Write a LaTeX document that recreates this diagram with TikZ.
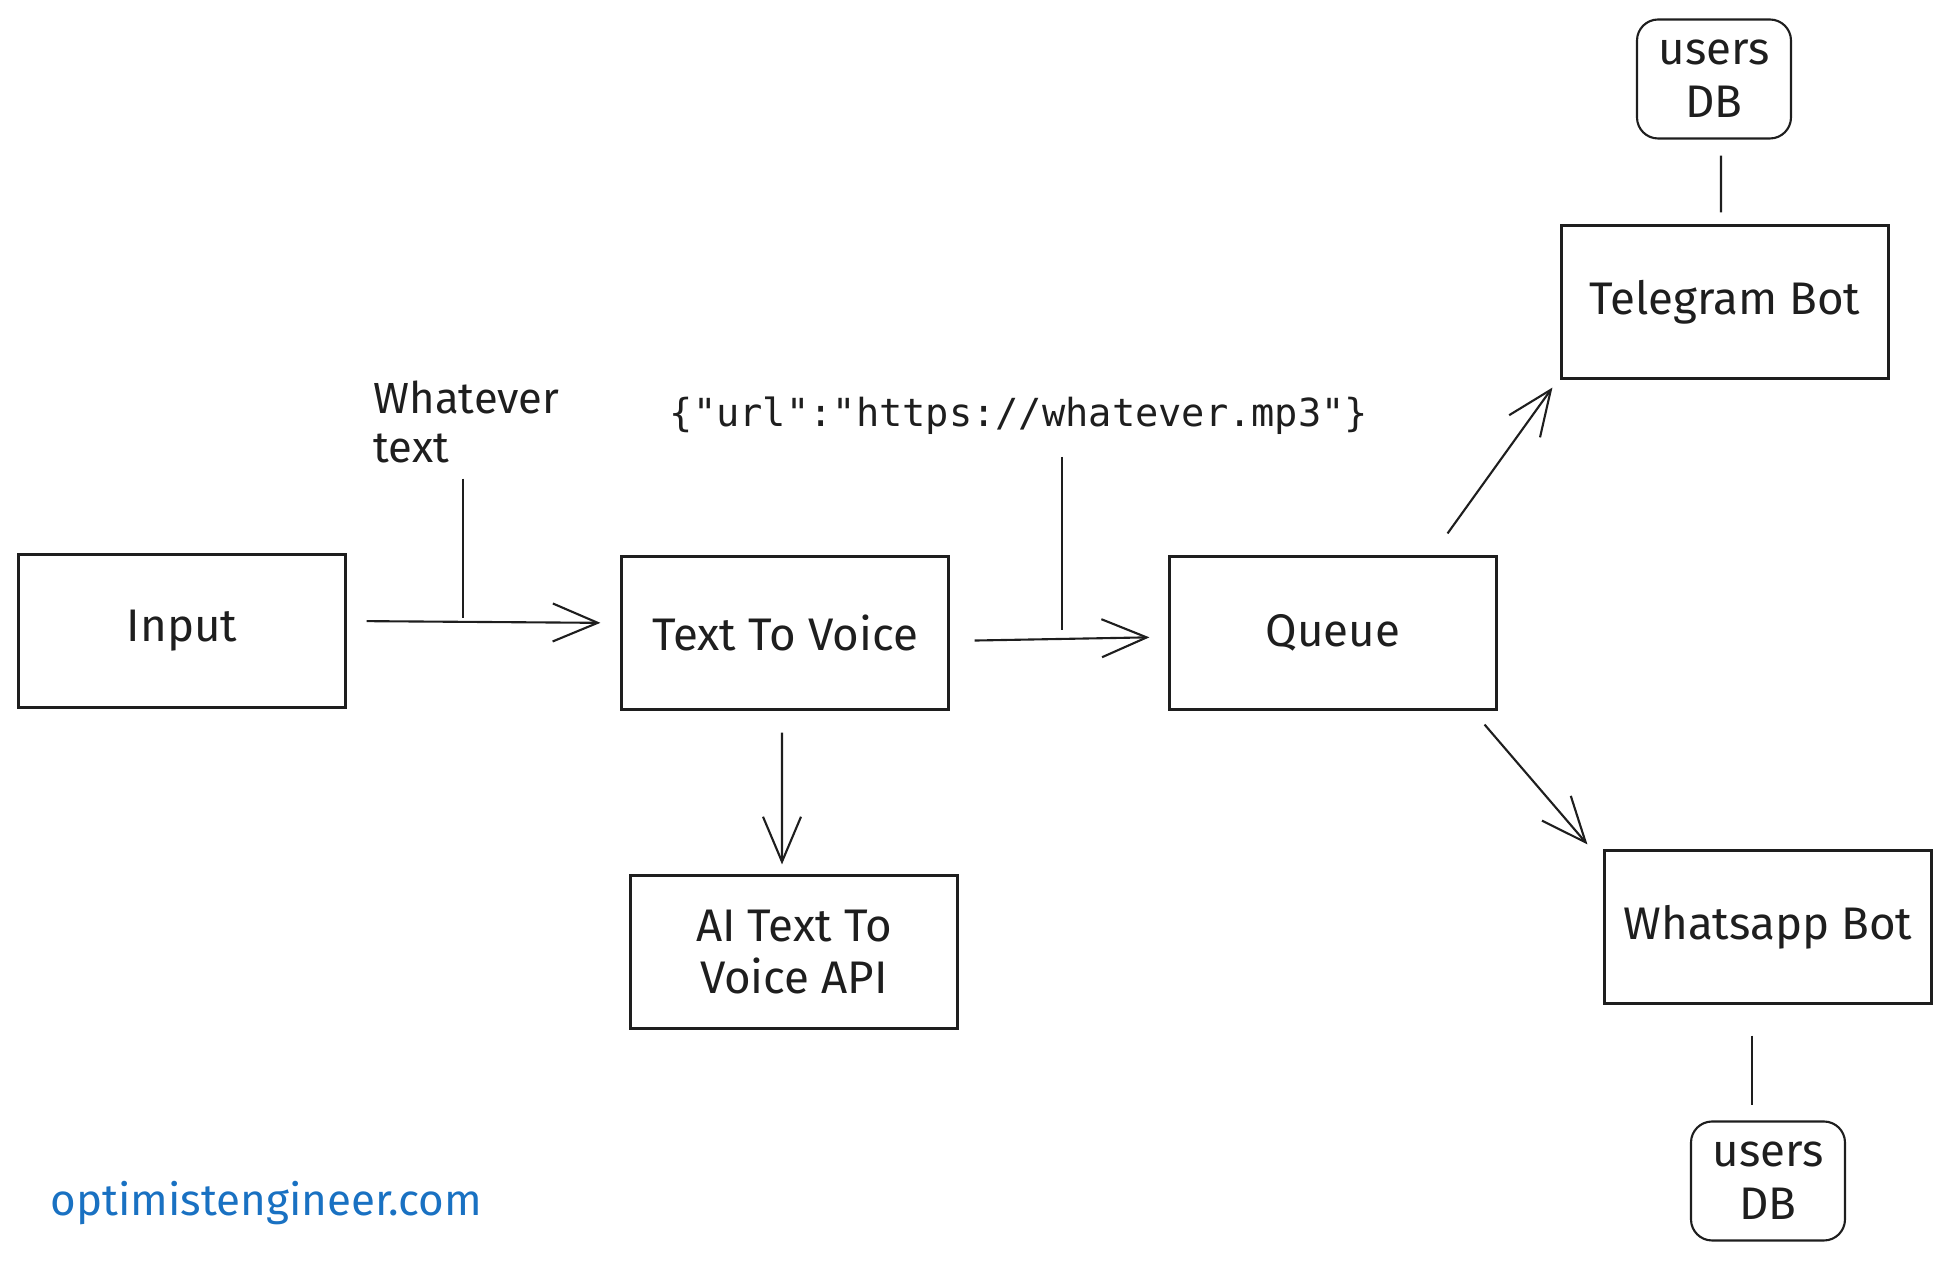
\documentclass[tikz,border=0pt]{standalone}
\usepackage{fontspec}
\setmainfont{Fira Sans}
\newfontfamily\codefont{DejaVu Sans Mono}
\usepackage{xcolor}
\usetikzlibrary{positioning,arrows.meta}
\definecolor{inkBlack}{HTML}{1E1E1E}
\definecolor{siteBlue}{HTML}{1971C2}

\begin{document}
\begin{tikzpicture}[
  x=0.1mm, y=-0.1mm,
  block/.style={
    draw=inkBlack, line width=0.6pt,
    minimum width=32.7mm, minimum height=15.3mm,
    font=\fontsize{13}{15}\selectfont, text=inkBlack,
    align=center, inner sep=2pt,
  },
  store/.style={
    block, rounded corners=6pt,
    minimum width=15.4mm, minimum height=11.9mm,
  },
  note/.style={font=\fontsize{12.4}{14}\selectfont, text=inkBlack, inner sep=0pt},
  arr/.style={-{Straight Barb[length=4.5mm,width=3.8mm]}, line width=0.6pt, inkBlack},
  link/.style={line width=0.6pt, inkBlack},
]
\useasboundingbox (0,0) rectangle (1951,1261);

% Main pipeline
\node[block] (input) at (182,631) {Input};
\node[block] (ttv) at (785,633) {Text To Voice};
\node[block] (queue) at (1333,633) {Queue};
\node[block] (ai) at (794,952) {AI Text To\\Voice API};

% Bots
\node[block] (telegram) at (1725,302) {Telegram Bot};
\node[block] (whatsapp) at (1768,927) {Whatsapp Bot};

% User stores
\node[store] (tgdb) at (1714,79) {users\\DB};
\node[store] (wadb) at (1768,1181) {users\\DB};

% Payload labels
\node[note, anchor=north west, align=left] (wtext) at (373,380) {Whatever\\text};
\node[note, font=\codefont\fontsize{11}{13}\selectfont] (payload) at (1019,416)
  {\{"url":"https://whatever.mp3"\}};
\coordinate (wfoot) at (463,618);
\coordinate (pfoot) at (1062,630);
\coordinate (ptop) at (1062,457);

% Arrows
\draw[arr, shorten <=2mm, shorten >=2mm] ([yshift=1mm]input.east) -- ([yshift=1mm]ttv.west);
\draw[arr, shorten <=2.5mm, shorten >=1.9mm] ([yshift=-0.8mm]ttv.east) -- ([yshift=-0.4mm]queue.west);
\draw[arr, shorten <=2.2mm, shorten >=1mm] ([xshift=-0.3mm]ttv.south) -- ([xshift=-1.2mm]ai.north);
\draw[arr] ([xshift=-5mm,yshift=2.2mm]queue.north east) -- ([xshift=-0.8mm,yshift=-0.8mm]telegram.south west);
\draw[arr] ([xshift=-1.3mm,yshift=-1.4mm]queue.south east) -- ([xshift=-1.6mm,yshift=0.5mm]whatsapp.north west);

% Label ticks
\draw[link, shorten <=1.5mm] (wfoot |- wtext.south) -- (wfoot);
\draw[link] (ptop) -- (pfoot);

% Store links
\draw[link, shorten <=1.6mm, shorten >=1.2mm] ([xshift=0.7mm]tgdb.south) -- ([xshift=-0.4mm]telegram.north);
\draw[link, shorten <=3.1mm, shorten >=1.5mm] ([xshift=-1.6mm]whatsapp.south) -- ([xshift=-1.6mm]wadb.north);

% Watermark
\node[note, font=\fontsize{12.5}{14}\selectfont, text=siteBlue, anchor=west] (site) at (50,1203) {optimistengineer.com};

\end{tikzpicture}
\end{document}
